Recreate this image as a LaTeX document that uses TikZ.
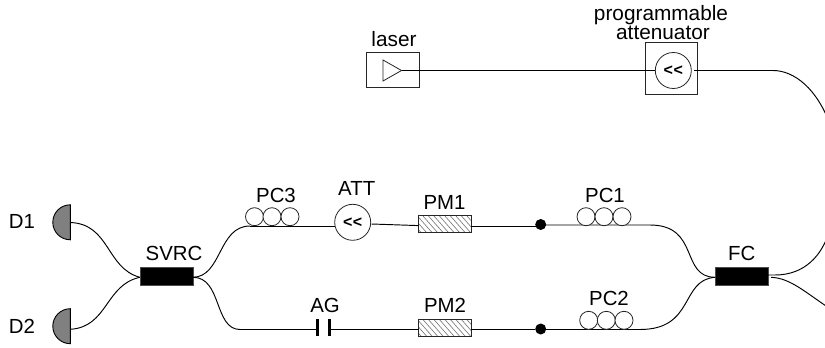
\documentclass[tikz,border=0pt]{standalone}
\usepackage{fontspec}
\setmainfont{Liberation Sans}
\newcommand{\attsym}{\fontsize{16}{16}\bfseries\selectfont{<}\kern0.5pt{<}}
\begin{document}
\begin{tikzpicture}[x=1pt,y=-1pt,
  every node/.style={inner sep=0pt,outer sep=0pt},
  lab/.style={anchor=base,font=\fontsize{20.4}{22}\selectfont},
  toplab/.style={anchor=base,font=\fontsize{20.8}{22}\selectfont},
  wire/.style={draw=black,line width=0.95pt},
  thin box/.style={draw=black!85,line width=0.9pt,fill=white},
  coupler/.style={draw=black!70,line width=0.6pt,fill=black,minimum width=53pt,minimum height=18pt},
  modulator/.style={draw=black!85,line width=0.9pt,minimum width=52.6pt,minimum height=17pt,fill=white,
    path picture={\foreach \i in {-18,-12.5,...,60}{
      \draw[black!55,line width=0.6pt] ([xshift=\i pt]path picture bounding box.north west) -- ([xshift=\i pt+15pt]path picture bounding box.south west);}}},
  attcircle/.style={circle,draw=black!85,line width=0.8pt,fill=white,minimum size=36pt},
  coil/.style={circle,draw=black!85,line width=0.8pt,fill=white,minimum size=18pt},
  dot/.style={circle,fill=black,minimum size=11pt},
  plate/.style={line width=3pt,black},
  detector/.style={draw=black,line width=0.9pt,fill=black!50}]
\useasboundingbox (0,0) rectangle (825,348);
\clip (0,0) rectangle (825,348);

% components
\node[thin box,minimum width=52.6pt,minimum height=34.6pt] (laserbox) at (392.7,70) {};
\coordinate (laserout) at (401.5,70.5);
\draw[black!85,line width=0.8pt] (383,60) -- (laserout) -- (383,81) -- cycle;
\node[thin box,minimum width=52.6pt,minimum height=52pt] (pabox) at (671.5,68.5) {};
\node[attcircle] (pa) at (673.3,70.5) {\attsym};
\coordinate (paout) at (694,70.5);
\coordinate (pabend) at (773,70.5);
\coordinate (topexit) at (829,122);
\coordinate (lowentry) at (829,232);
\coordinate (fcbend) at (775,275);

\node[coupler] (svrc) at (166.3,276) {};
\node[coupler] (fc) at (741.5,276) {};
\coordinate (fcout) at (768,275);
\coordinate (fcoutb) at (771,277.3);
\coordinate (lowexit) at (829,308);

\node[modulator] (pm1) at (445,224.2) {};
\node[modulator] (pm2) at (445,327.8) {};
\node[attcircle] (att) at (352.7,222.3) {\attsym};
\node[dot] (dot1) at (540.7,224.5) {};
\node[dot] (dot2) at (540.7,329) {};

\coordinate (d1) at (70.3,222.3);
\coordinate (d2) at (70.3,326.2);
\coordinate (d1out) at (70.3,222.5);
\coordinate (d2out) at (70.3,329.3);
\coordinate (svl) at (139.8,277.3);
\coordinate (svr) at (192.8,277.3);
\coordinate (up) at (250,226);
\coordinate (low) at (240,329.5);
\coordinate (fcl) at (715,277.3);
\coordinate (pc1s) at (544,225);
\coordinate (pc1end) at (650,225);
\coordinate (pc2s) at (544,329.5);
\coordinate (pc2end) at (640,329.5);
\coordinate (agl) at (317,329.5);
\coordinate (agr) at (329,329.5);
\coordinate (atto) at (371.5,224);
\coordinate (pm1in) at (418.7,225.6);
\coordinate (pm1out) at (471.3,226);
\coordinate (dot1in) at (540.7,226);

% connectors
\draw[wire] (laserout) -- (pa.west |- laserout);
\draw[wire] (paout) -- (pabend) .. controls (795,70.5) and (817,90) .. (topexit);
\draw[wire] (fcout) -- (fcbend) .. controls (805,275) and (822,255) .. (lowentry);
\draw[wire] (fcoutb) .. controls (790,278) and (805,292) .. (lowexit);
\draw[wire] (d1out) .. controls (110,224) and (106,268) .. (svl);
\draw[wire] (d2out) .. controls (108,327) and (105,285) .. (svl);
\draw[wire] (svr) .. controls (222,277) and (218,226) .. (up);
\draw[wire] (svr) .. controls (222,277) and (214,329.5) .. (low);
\draw[wire] (up) -- (att.west |- up);
\draw[wire] (atto) -- (pm1in);
\draw[wire] (pm1out) -- (dot1in);
\draw[wire] (pc1s) -- (pc1end) .. controls (700,225) and (680,277) .. (fcl);
\draw[wire] (low) -- (agl);
\draw[wire] (agr) -- (pm2.west |- agr);
\draw[wire] (pm2.east |- dot2) -- (dot2);
\draw[wire] (pc2s) -- (pc2end) .. controls (695,329.5) and (680,280) .. (fcl);

\draw[plate] (agl) ++(0,-10.5) -- ++(0,17);
\draw[plate] (agr) ++(0,-10.5) -- ++(0,17);

% polarisation controllers
\foreach \n/\x/\y in {a/254.5/216.7,b/272/216.7,c/290/216.7,d/586/216.7,e/604/216.7,f/622/216.7,g/588.7/320.3,h/606.3/320.3,i/624/320.3}
  \node[coil] (coil\n) at (\x,\y) {};

% detectors
\draw[detector] (d1) ++(0,-17.5) arc[start angle=-90,end angle=-270,radius=17.5] -- cycle;
\draw[detector] (d2) ++(0,-17.5) arc[start angle=-90,end angle=-270,radius=17.5] -- cycle;

% labels
\node[toplab] (tprog) at (661,20) {programmable};
\node[toplab] (tatten) at (663,39.3) {attenuator};
\node[toplab] (tlaser) at (394,46) {laser};
\node[lab] (td1) at (22,228) {D1};
\node[lab] (td2) at (22,333.3) {D2};
\node[lab] (tsvrc) at (174,260.7) {SVRC};
\node[lab] (tpc3) at (276,202.3) {PC3};
\node[lab] (tatt) at (356.7,195) {ATT};
\node[lab] (tpm1) at (444.5,209) {PM1};
\node[lab] (tag) at (325,312.3) {AG};
\node[lab] (tpm2) at (445,312.3) {PM2};
\node[lab] (tpc1) at (605,202.3) {PC1};
\node[lab] (tpc2) at (609,305) {PC2};
\node[lab] (tfc) at (741.7,260.7) {FC};
\end{tikzpicture}
\end{document}
